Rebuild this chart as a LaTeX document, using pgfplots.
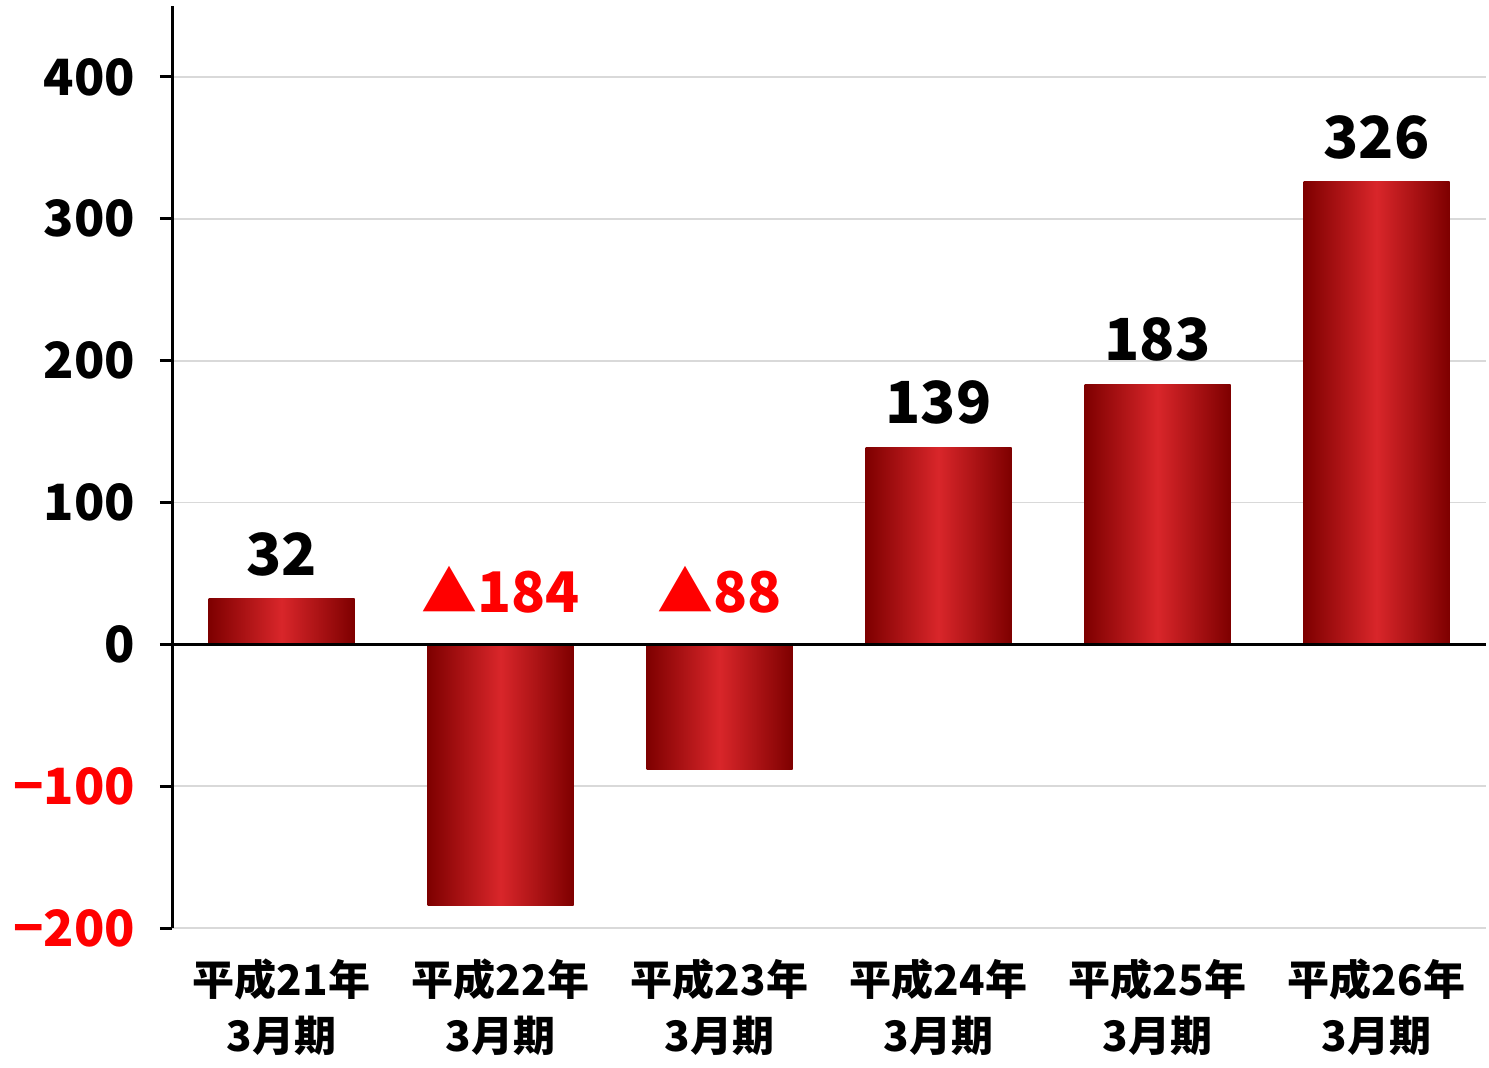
\documentclass[border=0pt]{standalone}
\usepackage{fontspec}
\setmainfont{Noto Sans CJK JP}
\usepackage{pgfplots}
\pgfplotsset{compat=1.18}

\definecolor{barDark}{HTML}{7E0000}
\definecolor{barMid}{HTML}{D9262A}
\definecolor{gridGray}{HTML}{D9D9D9}
\definecolor{negRed}{HTML}{FF0000}

\pgfplotsset{redbar/.style={ybar, bar width=73pt, bar shift=0pt, draw=none,
    left color=barDark, right color=barDark, middle color=barMid}}

\begin{document}
\begin{tikzpicture}
\begin{axis}[
    scale only axis,
    width=657pt, height=461pt,
    xmin=-0.5, xmax=5.5,
    ymin=-200, ymax=450,
    axis y line*=left,
    axis x line*=bottom,
    x axis line style={draw=none},
    y axis line style={line width=1.5pt},
    ytick={-200,-100,0,100,200,300,400},
    yticklabels={\textcolor{negRed}{−200},\textcolor{negRed}{−100},0,100,200,300,400},
    xtick={0,1,2,3,4,5},
    xticklabels={平成21年\\3月期,平成22年\\3月期,平成23年\\3月期,平成24年\\3月期,平成25年\\3月期,平成26年\\3月期},
    xticklabel style={align=center, font=\fontsize{21}{28}\selectfont\bfseries, yshift=-6pt},
    yticklabel style={font=\fontsize{25}{30}\selectfont\bfseries, xshift=-9pt},
    tick align=outside,
    major tick length=6pt,
    y tick style={line width=1.5pt, black},
    x tick style={draw=none},
    ymajorgrids,
    grid style={gridGray, line width=0.9pt},
    clip=false,
]
% one plot per bar so that each bar gets its own shading
\addplot[redbar] coordinates {(0,32)};
\addplot[redbar] coordinates {(1,-184)};
\addplot[redbar] coordinates {(2,-88)};
\addplot[redbar] coordinates {(3,139)};
\addplot[redbar] coordinates {(4,183)};
\addplot[redbar] coordinates {(5,326)};

\draw[black, line width=1.5pt] (axis cs:-0.5,0) -- (axis cs:5.5,0);

\addplot[draw=none, mark=none,
    nodes near coords, point meta=explicit symbolic,
    every node near coord/.append style={font=\fontsize{29}{34}\selectfont\bfseries, anchor=south, yshift=8pt}]
    coordinates {(0,32)[32] (3,139)[139] (4,183)[183] (5,326)[326]};
\addplot[draw=none, mark=none,
    nodes near coords, point meta=explicit symbolic,
    every node near coord/.append style={font=\fontsize{28}{34}\selectfont\bfseries, anchor=south, yshift=12pt, text=negRed}]
    coordinates {(1,0)[▲184] (2,0)[▲88]};
\end{axis}
\path (current axis.south west) ++(-86pt,-69.5pt) coordinate (bl);
\path (current axis.north east) ++(1.5pt,3pt) coordinate (tr);
\pgfresetboundingbox
\useasboundingbox (bl) rectangle (tr);
\end{tikzpicture}
\end{document}
